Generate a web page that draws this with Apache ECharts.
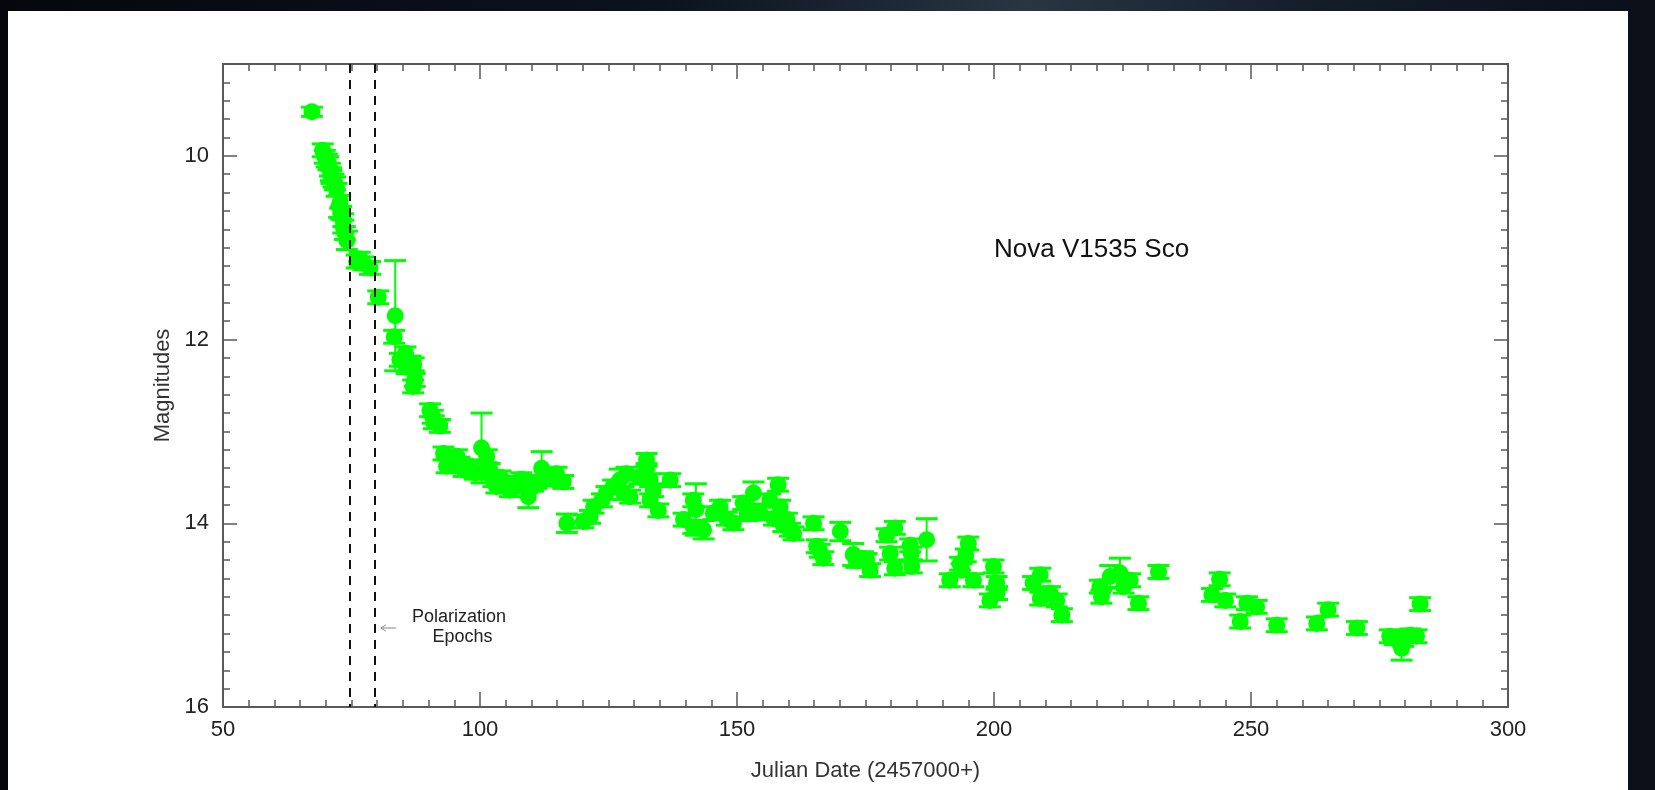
<!DOCTYPE html>
<html>
<head>
<meta charset="utf-8">
<title>Nova V1535 Sco</title>
<script src="https://cdn.jsdelivr.net/npm/echarts@6/dist/echarts.min.js"></script>
<style>
  html, body { margin: 0; padding: 0; }
  body {
    width: 1655px; height: 790px; overflow: hidden; position: relative;
    background: linear-gradient(90deg, #05070c 0%, #0b1220 40%, #2a3442 62%, #141c2a 80%, #0a0f18 100%);
  }
  .paper { position: absolute; left: 8px; top: 11px; width: 1620px; height: 779px; background: #fff; }
  #chart { position: absolute; left: 0; top: 0; width: 1655px; height: 790px; }
</style>
</head>
<body>
<div class="paper"></div>
<div id="chart"></div>
<script>
// Julian date (2457000+), magnitude, 1-sigma error
const jd = [
  67.3, 69.4, 69.8, 70.2, 70.5, 70.8, 71.0, 71.1, 71.5, 71.8, 72.1, 72.6, 72.8, 73.0, 73.4, 73.4, 73.7, 74.1,
  76.0, 76.6, 77.3, 78.6, 80.2, 83.5, 83.3, 84.4, 85.5, 85.7, 86.5, 87.1, 87.3, 87.0,
  90.3, 90.8, 91.0, 92.2, 92.9, 93.5, 94.8, 95.5, 96.0, 96.8, 98.1, 99.0, 100.3, 101.3, 101.9, 102.6,
  103.2, 104.0, 105.0, 105.8, 106.5, 107.1, 108.0, 109.1, 109.4, 110.3, 111.0, 112.0, 113.0, 114.0,
  114.9, 116.2, 116.9, 120.1, 121.4, 122.1, 123.7, 124.6, 125.9, 127.2, 127.9, 128.5, 129.2, 131.0,
  132.4, 132.4, 133.1, 133.7, 133.1, 134.7, 137.0, 139.6, 141.5, 142.0, 141.5, 143.5, 145.4, 146.7,
  148.0, 149.3, 151.2, 152.0, 153.2, 154.5, 156.4, 157.2, 158.0, 158.4, 159.0, 159.7, 160.3, 161.0,
  164.9, 165.5, 166.1, 166.8, 170.1, 172.6, 173.2, 174.5, 175.2, 175.9, 179.1, 180.7, 179.8, 180.7,
  183.7, 183.9, 184.0, 186.9, 191.4, 193.4, 193.7, 195.0, 196.0, 194.5, 199.9, 200.5, 199.2, 200.6,
  207.6, 209.0, 209.0, 210.9, 212.2, 213.2, 220.6, 220.9, 222.6, 224.5, 225.2, 226.5, 228.1, 232.0,
  242.4, 243.9, 245.0, 247.9, 249.2, 251.1, 255.0, 262.8, 265.0, 270.6, 277.0, 278.0, 279.6, 279.3,
  281.0, 282.2, 282.9
];
const mag = [
  9.52, 9.94, 10.01, 10.05, 10.08, 10.15, 10.20, 10.23, 10.27, 10.30, 10.37, 10.55, 10.50, 10.62, 10.70, 10.77, 10.84, 10.92,
  11.15, 11.12, 11.17, 11.22, 11.54, 11.74, 11.97, 12.22, 12.15, 12.30, 12.25, 12.27, 12.44, 12.51,
  12.77, 12.84, 12.90, 12.94, 13.24, 13.38, 13.31, 13.27, 13.35, 13.42, 13.38, 13.45, 13.18, 13.27, 13.42, 13.53,
  13.60, 13.50, 13.58, 13.64, 13.60, 13.56, 13.52, 13.60, 13.71, 13.58, 13.55, 13.40, 13.49, 13.52,
  13.46, 13.55, 14.00, 13.98, 13.93, 13.82, 13.75, 13.67, 13.60, 13.53, 13.67, 13.46, 13.71, 13.50,
  13.31, 13.42, 13.53, 13.64, 13.75, 13.86, 13.53, 13.96, 13.75, 13.85, 14.04, 14.07, 13.89, 13.82,
  13.95, 14.00, 13.78, 13.90, 13.67, 13.89, 13.75, 13.95, 13.58, 13.82, 14.02, 13.96, 14.07, 14.11,
  14.00, 14.25, 14.30, 14.38, 14.09, 14.34, 14.41, 14.38, 14.40, 14.51, 14.13, 14.05, 14.33, 14.49,
  14.24, 14.33, 14.47, 14.18, 14.62, 14.44, 14.51, 14.22, 14.62, 14.35, 14.47, 14.65, 14.84, 14.76,
  14.65, 14.56, 14.82, 14.76, 14.84, 15.00, 14.69, 14.80, 14.58, 14.54, 14.69, 14.62, 14.87, 14.53,
  14.78, 14.61, 14.84, 15.07, 14.87, 14.91, 15.11, 15.09, 14.94, 15.14, 15.23, 15.25, 15.27, 15.36,
  15.22, 15.23, 14.88
];
const magErr = [
  0.05, 0.07, 0.07, 0.07, 0.07, 0.07, 0.07, 0.07, 0.07, 0.07, 0.07, 0.12, 0.07, 0.07, 0.07, 0.07, 0.07, 0.10,
  0.07, 0.07, 0.07, 0.07, 0.07, 0.60, 0.07, 0.07, 0.07, 0.07, 0.07, 0.07, 0.07, 0.07,
  0.07, 0.07, 0.07, 0.07, 0.07, 0.07, 0.07, 0.07, 0.07, 0.07, 0.07, 0.07, 0.38, 0.07, 0.07, 0.07,
  0.07, 0.07, 0.07, 0.07, 0.07, 0.07, 0.07, 0.07, 0.12, 0.07, 0.07, 0.18, 0.07, 0.07,
  0.07, 0.07, 0.10, 0.07, 0.07, 0.07, 0.07, 0.07, 0.07, 0.12, 0.07, 0.07, 0.07, 0.07,
  0.07, 0.07, 0.07, 0.07, 0.07, 0.07, 0.07, 0.07, 0.07, 0.28, 0.07, 0.10, 0.07, 0.07,
  0.07, 0.07, 0.07, 0.07, 0.12, 0.07, 0.07, 0.07, 0.07, 0.07, 0.07, 0.07, 0.07, 0.07,
  0.07, 0.07, 0.07, 0.07, 0.10, 0.12, 0.07, 0.07, 0.07, 0.07, 0.07, 0.07, 0.07, 0.07,
  0.07, 0.07, 0.07, 0.23, 0.07, 0.07, 0.07, 0.07, 0.07, 0.07, 0.07, 0.07, 0.07, 0.07,
  0.07, 0.07, 0.07, 0.07, 0.07, 0.07, 0.07, 0.07, 0.12, 0.16, 0.07, 0.07, 0.07, 0.07,
  0.07, 0.07, 0.07, 0.07, 0.07, 0.07, 0.07, 0.07, 0.07, 0.07, 0.07, 0.07, 0.07, 0.13,
  0.07, 0.07, 0.07
];
const epochs = [74.7, 79.6];
const yLabels = [10, 12, 14, 16];

const green = '#00ff00';
const font = "'Liberation Sans', Arial, sans-serif";
const axisColor = '#5a5a5a';

const chart = echarts.init(document.getElementById('chart'), null, { renderer: 'canvas' });

// x axes: bottom with labels, top mirrored
function xAx(pos, withLabels) {
  return {
    type: 'value', position: pos, min: 50, max: 300, interval: 50,
    name: withLabels ? 'Julian Date (2457000+)' : '',
    nameLocation: 'middle', nameGap: 53,
    nameTextStyle: { fontSize: 22, color: '#333', fontFamily: font },
    axisLine: { show: true, lineStyle: { color: axisColor, width: 2 } },
    axisTick: { show: true, inside: true, length: 15, lineStyle: { color: axisColor, width: 1.5 } },
    minorTick: { show: true, splitNumber: 10, length: 7, lineStyle: { color: axisColor, width: 1.5 } },
    axisLabel: { show: withLabels, margin: 12, fontSize: 22, color: '#222', fontFamily: font },
    splitLine: { show: false }
  };
}
// y axes: short ticks every 0.2, long ticks at even magnitudes
function yShort(pos, withLabels) {
  return {
    type: 'value', position: pos, min: 9, max: 16, interval: 1, inverse: true,
    name: withLabels ? 'Magnitudes' : '',
    nameLocation: 'middle', nameGap: 28, nameRotate: 90,
    nameTextStyle: { fontSize: 22, color: '#333', fontFamily: font },
    axisLine: { show: true, lineStyle: { color: axisColor, width: 2 } },
    axisTick: { show: true, inside: true, length: 7, lineStyle: { color: axisColor, width: 1.5 } },
    minorTick: { show: true, splitNumber: 5, length: 7, lineStyle: { color: axisColor, width: 1.5 } },
    axisLabel: {
      show: withLabels, margin: 14, fontSize: 22, color: '#222', fontFamily: font,
      formatter: v => (yLabels.indexOf(v) >= 0 ? String(v) : '')
    },
    splitLine: { show: false }
  };
}
function yLong(pos) {
  return {
    type: 'value', position: pos, min: 9, max: 16, inverse: true,
    axisLine: { show: false },
    axisTick: { show: true, inside: true, length: 14, customValues: yLabels, lineStyle: { color: axisColor, width: 1.5 } },
    axisLabel: { show: false },
    splitLine: { show: false }
  };
}

const option = {
  animation: false,
  backgroundColor: 'transparent',
  title: {
    text: 'Nova V1535 Sco', left: 989, top: 232,
    textStyle: { fontSize: 26, fontWeight: 'normal', color: '#111', fontFamily: font }
  },
  grid: { left: 223, top: 64, width: 1285, height: 643 },
  xAxis: [xAx('bottom', true), xAx('top', false)],
  yAxis: [yShort('left', true), yLong('left'), yShort('right', false), yLong('right')],
  series: [
    {
      type: 'custom',
      name: 'errors',
      xAxisIndex: 0, yAxisIndex: 0,
      data: jd.map((x, i) => [x, mag[i], magErr[i]]),
      encode: { x: 0, y: 1 },
      z: 2,
      renderItem: (params, api) => {
        const x = api.value(0), y = api.value(1), e = api.value(2);
        const top = api.coord([x, y - e]);
        const bot = api.coord([x, y + e]);
        const hw = 11;
        const st = { stroke: green, lineWidth: 2 };
        const cap = { stroke: green, lineWidth: 3 };
        return {
          type: 'group',
          children: [
            { type: 'line', shape: { x1: top[0], y1: top[1], x2: bot[0], y2: bot[1] }, style: st },
            { type: 'line', shape: { x1: top[0] - hw, y1: top[1], x2: top[0] + hw, y2: top[1] }, style: cap },
            { type: 'line', shape: { x1: bot[0] - hw, y1: bot[1], x2: bot[0] + hw, y2: bot[1] }, style: cap }
          ]
        };
      }
    },
    {
      type: 'scatter',
      name: 'V',
      xAxisIndex: 0, yAxisIndex: 0,
      data: jd.map((x, i) => [x, mag[i]]),
      symbol: 'circle',
      symbolSize: 17,
      itemStyle: { color: green, opacity: 1 },
      z: 3,
      markLine: {
        silent: true,
        symbol: ['none', 'none'],
        label: { show: false },
        lineStyle: { color: '#111', type: [9, 7], width: 2 },
        data: epochs.map(v => ({ xAxis: v }))
      }
    }
  ]
};
chart.setOption(option);

// annotation beside the epoch lines
const toPx = p => chart.convertToPixel({ xAxisIndex: 0, yAxisIndex: 0 }, p);
const pPol = toPx([95.9, 15.02]);
const pEp = toPx([96.6, 15.24]);
const a0 = toPx([80.7, 15.14]);
const a1 = toPx([83.7, 15.14]);
chart.setOption({
  graphic: [
    { type: 'text', x: pPol[0], y: pPol[1], style: { text: 'Polarization', fill: '#222', font: '18px ' + font, align: 'center', verticalAlign: 'middle' } },
    { type: 'text', x: pEp[0], y: pEp[1], style: { text: 'Epochs', fill: '#222', font: '18px ' + font, align: 'center', verticalAlign: 'middle' } },
    { type: 'polyline', shape: { points: [[a1[0], a1[1]], [a0[0], a0[1]]] }, style: { stroke: '#888', lineWidth: 1 } },
    { type: 'polyline', shape: { points: [[a0[0] + 5, a0[1] - 3], [a0[0], a0[1]], [a0[0] + 5, a0[1] + 3]] }, style: { stroke: '#888', lineWidth: 1, fill: null } }
  ]
});
</script>
</body>
</html>
